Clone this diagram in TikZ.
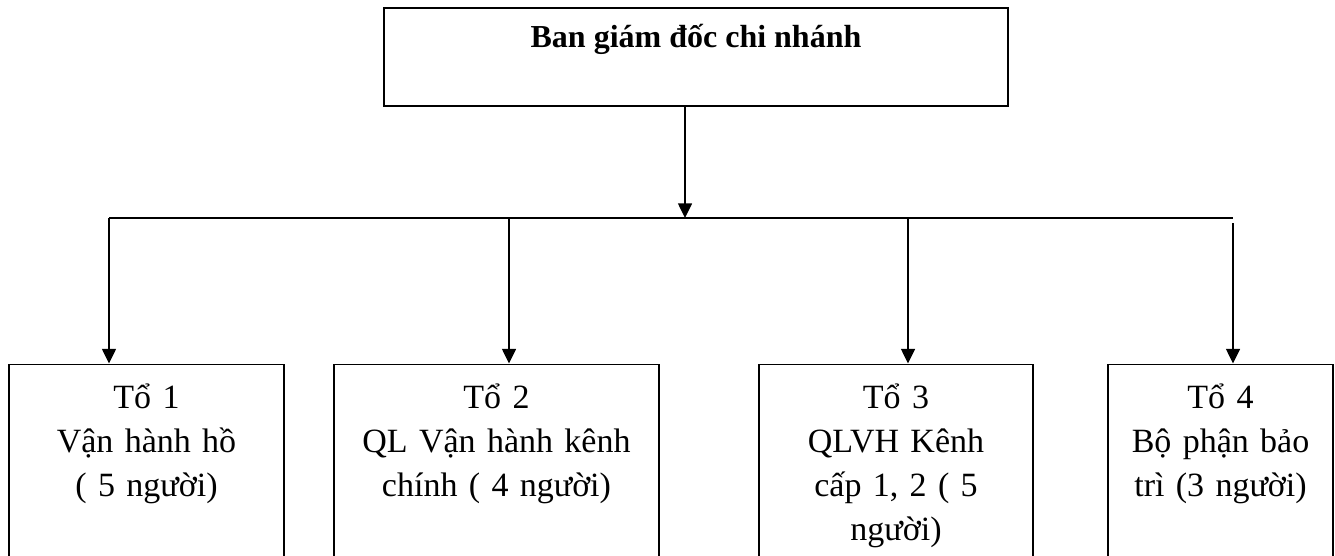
\documentclass[tikz,border=0pt]{standalone}
\usepackage{fontspec}
\setmainfont{Liberation Serif}
\usetikzlibrary{arrows.meta}
\begin{document}
\begin{tikzpicture}[x=0.75pt,y=-0.75pt,
  line/.style={line width=1.1pt, black},
  arr/.style={line, -{Triangle[length=11pt,width=10.5pt]}},
  topbox/.style={draw, line width=1.3pt, inner sep=0pt, anchor=north,
    minimum width=468pt, text height=30pt, text depth=43.5pt,
    font=\fontsize{24pt}{29pt}\selectfont\bfseries},
  unitbox/.style={draw, line width=1.1pt, inner xsep=0pt, inner ysep=0pt, anchor=north,
    align=center, text height=33.4pt, text depth=225pt,
    font=\fontsize{25.5pt}{33pt}\selectfont}
]
\useasboundingbox (0,0) rectangle (1335,556);
\clip (0,0) rectangle (1335,556);
\fill[white] (0,0) rectangle (1335,556);

\node[topbox] (top) at (696,7) {Ban giám đốc chi nhánh};

\node[unitbox, text width=206.25pt] (b1) at (146.5,363.5) {Tổ 1\\Vận hành hồ\\( 5 người)};
\node[unitbox, text width=243.75pt] (b2) at (496.5,363.5) {Tổ 2\\QL Vận hành kênh\\chính ( 4 người)};
\node[unitbox, text width=205.5pt] (b3) at (896,363.5) {Tổ 3\\QLVH Kênh\\cấp 1, 2 ( 5\\người)};
\node[unitbox, text width=168.75pt] (b4) at (1220.5,363.5) {Tổ 4\\Bộ phận bảo\\trì (3 người)};

\coordinate (j) at (685,218);
\coordinate (hl) at (109,218);
\coordinate (hr) at (1233,218);
\coordinate (d2) at (509,218);
\coordinate (d3) at (908,218);
\coordinate (d4) at (1233,223);

\draw[arr] (top.south -| j) -- (j);
\draw[line] (hl) -- (hr);
\draw[arr] (hl) -- (hl |- b1.north);
\draw[arr] (d2) -- (d2 |- b2.north);
\draw[arr] (d3) -- (d3 |- b3.north);
\draw[arr] (d4) -- (d4 |- b4.north);
\end{tikzpicture}
\end{document}
